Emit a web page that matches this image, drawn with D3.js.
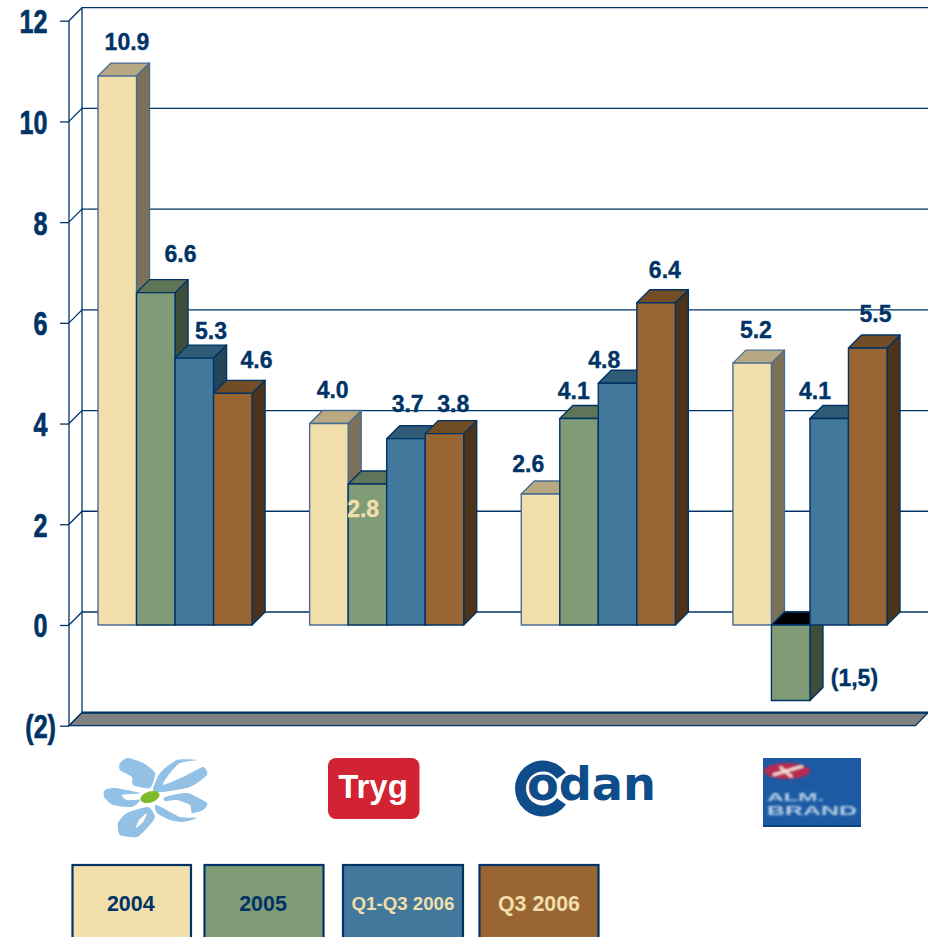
<!DOCTYPE html>
<html><head><meta charset="utf-8">
<script src="https://cdnjs.cloudflare.com/ajax/libs/d3/7.8.5/d3.min.js"></script>
<style>html,body{margin:0;padding:0;background:#fff;overflow:hidden}svg{display:block}text{font-family:"Liberation Sans",Arial,sans-serif;font-weight:bold}</style>
</head><body><svg id="c" width="928" height="937"></svg>
<script>
const companies = ["Topdanmark","Tryg","Codan","Alm. Brand"];
const seriesNames = ["2004","2005","Q1-Q3 2006","Q3 2006"];
const values2004 = [10.9,4.0,2.6,5.2];
const values2005 = [6.6,2.8,4.1,-1.5];
const valuesQ1Q3 = [5.3,3.7,4.8,4.1];
const valuesQ3 = [4.6,3.8,6.4,5.5];
const tickValues = [-2,0,2,4,6,8,10,12];
const tickLabels = ["(2)","0","2","4","6","8","10","12"];
const valueLabels = [["10.9","4.0","2.6","5.2"],["6.6","2.8","4.1","(1,5)"],["5.3","3.7","4.8","4.1"],["4.6","3.8","6.4","5.5"]];

// styling and layout
const frontCols = ["#F2DFAB","#7F9C77","#41789B","#996633"];
const topCols = ["#B8A982","#5F7558","#2F5B76","#734D26"];
const sideCols = ["#7D7059","#3F4D3B","#234559","#4D331A"];
const strokeCols = ["#4A6C94","#003366","#003366","#003366"];
const legendText = ["#003366","#003366","#F2DFAB","#F2DFAB"];
const navy = "#003366", depth = 13;
// label anchor [x centre, baseline] relative to the front-top-left corner of a bar
const labelNudge = [
 [[29,-26],[23,-26],[7,-22],[23,-25]],
 [[44,-31],[15,33],[14,-20],[83,-15]],
 [[36,-19],[21,-27],[6,-15],[5,-20]],
 [[43,-25],[28,-22],[28,-25],[27,-26]]];

const all = [values2004,values2005,valuesQ1Q3,valuesQ3];
const svg = d3.select("#c");
const y = d3.scaleLinear().domain([-2,12]).range([725.7,20.7]);
const x0 = d3.scaleBand().domain(companies).range([98,887]).paddingInner(0.272);
const x1 = d3.scaleBand().domain(seriesNames).range([0,x0.bandwidth()]);
const wallR = 928, axisX = 69;

// grid lines and walls
const grid = svg.append("g").attr("fill","none").attr("stroke",navy).attr("stroke-width",1.3);
tickValues.forEach(t=>{
  grid.append("path").attr("d",`M${axisX},${y(t)}L${axisX+depth},${y(t)-depth}L${wallR},${y(t)-depth}`);
});
grid.append("path").attr("d",`M${axisX},${y(12)}V${y(-2)}`);
grid.append("path").attr("d",`M${axisX+depth},${y(12)-depth}V${y(-2)-depth}`);

// floor
svg.append("path").attr("d",`M${axisX},${y(-2)}L${axisX+depth},${y(-2)-depth}L${wallR},${y(-2)-depth}L${wallR-12.5},${y(-2)}Z`)
  .attr("fill","#808080").attr("stroke",navy).attr("stroke-width",1.3);
svg.append("path").attr("d",`M${axisX+depth},${y(-2)-depth}H${wallR}`).attr("stroke",navy).attr("stroke-width",2.2);

// axis
const ax = svg.append("g").attr("transform",`translate(${axisX},0)`)
  .call(d3.axisLeft(y).tickValues(tickValues).tickSize(9).tickPadding(0).tickFormat(d=>tickLabels[tickValues.indexOf(d)]));
ax.select(".domain").remove();
ax.selectAll(".tick line").attr("stroke",navy).attr("stroke-width",1.3);
ax.selectAll(".tick text").each(function(d){
  const rx = d===-2 ? 56 : 47.5;
  d3.select(this).attr("fill",navy).attr("text-anchor","end").attr("dy",null).attr("x",null).attr("y",null)
    .attr("stroke",navy).attr("stroke-width",0.7)
    .style("font-size","34px").style("font-family",'"Liberation Sans",Arial,sans-serif').style("font-weight","bold")
    .attr("transform",`translate(${rx-axisX},12) scale(0.74,1)`);
});

// bars
function st(s,fill,i){return s.attr("fill",fill).attr("stroke",strokeCols[i]).attr("stroke-width",1.4).attr("stroke-linejoin","round");}
companies.forEach((c,gi)=>{
  const g = svg.append("g");
  seriesNames.forEach((s,si)=>{
    const v = all[si][gi];
    const l = x0(c)+x1(s), r = l+x1.bandwidth(), w = r-l;
    const t = Math.min(y(v),y(0)), b = Math.max(y(v),y(0));
    st(g.append("path").attr("d",`M${r},${t}L${r+depth},${t-depth}V${b-depth}L${r},${b}Z`),sideCols[si],si);
    st(g.append("path").attr("d",`M${l},${t}L${l+depth},${t-depth}H${r+depth}L${r},${t}Z`),v<0?"#000":topCols[si],si);
    st(g.append("rect").attr("x",l).attr("y",t).attr("width",w).attr("height",b-t),frontCols[si],si);
  });
});

// value labels (above all bars)
const lab = svg.append("g").style("font-size","23px").attr("text-anchor","middle");
companies.forEach((c,gi)=>{
  seriesNames.forEach((s,si)=>{
    const v = all[si][gi], n = labelNudge[si][gi];
    const col = (si===1&&gi===1)?"#F2DFAB":navy;
    lab.append("text").attr("x",x0(c)+x1(s)+n[0]).attr("y",y(v)+n[1])
      .attr("fill",col).attr("stroke",col).attr("stroke-width",0.35).text(valueLabels[si][gi]);
  });
});

// legend
const legendX = d3.scaleOrdinal().domain(seriesNames).range([72.5,204.5,343,479.5]);
const legendW = [118.5,119,120,119];
const legendSize = [21.4,21.4,18.7,21.4];
const legendShift = [-1,-1,0,0];
const leg = svg.append("g");
seriesNames.forEach((s,i)=>{
  leg.append("rect").attr("x",legendX(s)).attr("y",865).attr("width",legendW[i]).attr("height",90)
    .attr("fill",frontCols[i]).attr("stroke",navy).attr("stroke-width",2.2);
  leg.append("text").attr("x",legendX(s)+legendW[i]/2+legendShift[i]).attr("y",i===2?910:910.5).attr("text-anchor","middle")
    .style("font-size",legendSize[i]+"px").attr("fill",legendText[i]).text(s);
});

// logos
const defs = svg.append("defs");
defs.append("filter").attr("id","b1").append("feGaussianBlur").attr("stdDeviation",0.9);
defs.append("filter").attr("id","b2").append("feGaussianBlur").attr("stdDeviation",0.5);
const petal = d3.line().curve(d3.curveCardinalClosed.tension(0.35));
const flower = svg.append("g").attr("fill","#92C1E5").attr("filter","url(#b2)");
[
 [[120,763],[128,758],[143,763],[155,773],[150,788],[133,785],[132,777],[120,770]],
 [[153,790],[160,773],[177,760],[197,760],[180,763],[170,773],[163,785],[185,776],[203,767],[207,775],[190,787],[163,792]],
 [[165,797],[187,793],[207,803],[203,810],[192,813],[190,805],[177,800],[165,801]],
 [[155,805],[163,808],[180,817],[197,818],[183,822],[170,820],[157,813]],
 [[148,807],[155,817],[148,827],[137,837],[120,835],[118,823],[127,813]],
 [[105,790],[115,788],[140,793],[122,795],[127,800],[140,800],[132,807],[113,805],[104,797]]
].forEach(p=>flower.append("path").attr("d",petal(p)));
flower.append("path").attr("d",petal([[147,813],[143,822],[136,828],[139,820]])).attr("fill","#fff");
svg.append("ellipse").attr("cx",150).attr("cy",797).attr("rx",10).attr("ry",5.5)
  .attr("transform","rotate(-18 150 797)").attr("fill","#7FBA2A");

svg.append("rect").attr("x",328).attr("y",758).attr("width",91.5).attr("height",61).attr("rx",8).attr("fill","#D22333");
svg.append("text").attr("x",373).attr("y",798).attr("text-anchor","middle").style("font-size","33px").attr("fill","#fff").text("Tryg");

// Codan wordmark: ring mark for the C, real text for the rest
svg.append("path").attr("transform","translate(543,788.5)").attr("fill","#0E4C8A")
  .attr("d",d3.arc().innerRadius(17).outerRadius(28).startAngle(125*Math.PI/180).endAngle(415*Math.PI/180)());
svg.append("text").attr("x",527).attr("y",800).attr("fill","#0E4C8A")
  .style("font-family",'"DejaVu Sans",sans-serif').style("font-size","47px")
  .attr("textLength",129).attr("lengthAdjust","spacingAndGlyphs").text("odan");

svg.append("rect").attr("x",763).attr("y",758).attr("width",98).attr("height",69).attr("fill","#1C5BA3");
svg.append("rect").attr("x",763).attr("y",825).attr("width",98).attr("height",2).attr("fill","#0D3F80");
const ab = svg.append("g").attr("filter","url(#b1)");
ab.append("ellipse").attr("cx",787).attr("cy",771).attr("rx",23).attr("ry",8).attr("fill","#B92B52");
ab.append("path").attr("d","M773,775L803,766M780,767L792,777").attr("stroke","#F4E6DC").attr("stroke-width",2.5);
ab.append("text").attr("x",767).attr("y",801).style("font-size","11px").attr("textLength",57).attr("lengthAdjust","spacingAndGlyphs").attr("fill","#B5CDE6").text("ALM.");
ab.append("text").attr("x",767).attr("y",815).style("font-size","12px").attr("textLength",90).attr("lengthAdjust","spacingAndGlyphs").attr("fill","#B5CDE6").text("BRAND");
</script></body></html>
